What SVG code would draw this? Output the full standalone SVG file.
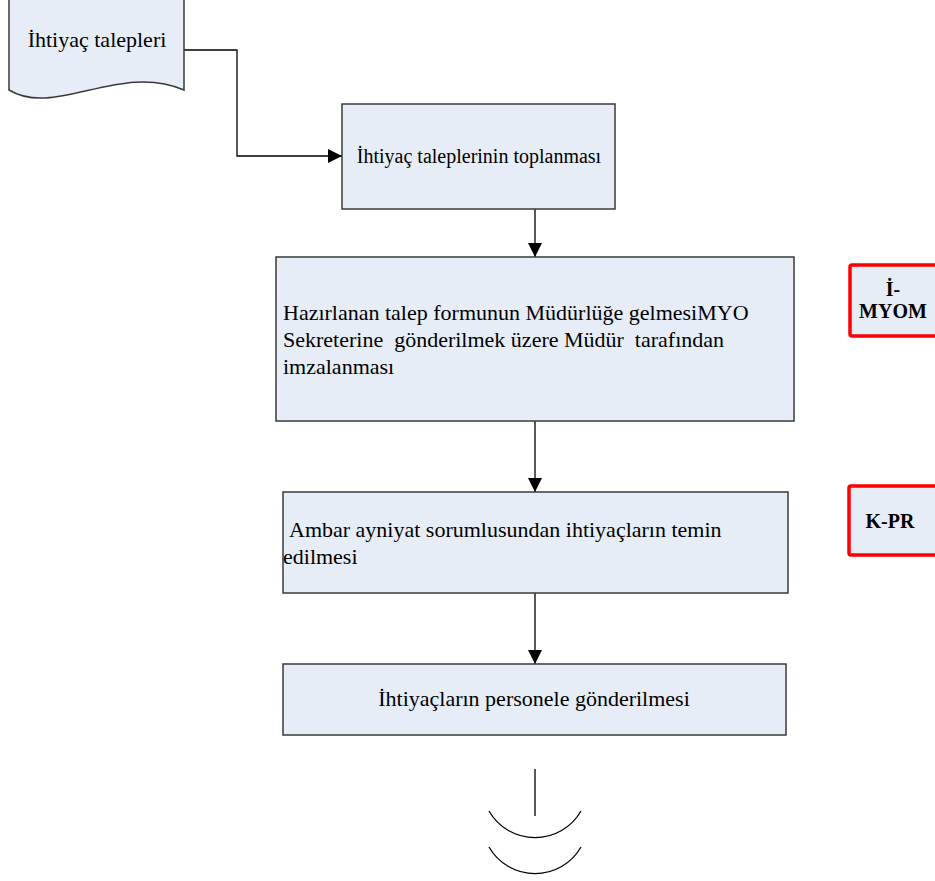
<svg xmlns="http://www.w3.org/2000/svg" width="935" height="881" viewBox="0 0 935 881">
<style>
.box{fill:#e7edf7;stroke:#3a3a3a;stroke-width:1.5}
.red{fill:#e7edf7;stroke:#ff0000;stroke-width:3.5}
.t{font-family:"Liberation Serif","Times New Roman",serif;font-size:22px;fill:#000;white-space:pre}
.s{font-size:20px}
.b{font-family:"Liberation Serif","Times New Roman",serif;font-size:20px;font-weight:bold;fill:#000}
.c{fill:none;stroke:#000;stroke-width:1.3}
</style>
<defs>
<marker id="ar2" markerWidth="14" markerHeight="14" refX="14" refY="7" orient="auto" markerUnits="userSpaceOnUse" viewBox="0 0 14 14">
<path d="M0,0 L14,7 L0,14 z" fill="#000"/>
</marker>
</defs>
<g id="connectors">
<path class="c" d="M184,50 H237 V156 H342" marker-end="url(#ar2)"/>
<path class="c" d="M535,209 V257" marker-end="url(#ar2)"/>
<path class="c" d="M535,421 V492" marker-end="url(#ar2)"/>
<path class="c" d="M535,593 V664" marker-end="url(#ar2)"/>
</g>
<g id="doc">
<path class="box" d="M9,-5 H184 V90 C120,62 55,118 9,90 Z"/>
<text class="t" x="97" y="47" text-anchor="middle">İhtiyaç talepleri</text>
</g>
<g id="n1">
<rect class="box" x="342" y="104" width="273" height="105"/>
<text class="t s" x="479" y="163" text-anchor="middle">İhtiyaç taleplerinin toplanması</text>
</g>
<g id="n2">
<rect class="box" x="276" y="257" width="518" height="164"/>
<text class="t" x="283" y="320" xml:space="preserve">Hazırlanan talep formunun Müdürlüğe gelmesiMYO</text>
<text class="t" x="283" y="347" xml:space="preserve">Sekreterine  gönderilmek üzere Müdür  tarafından</text>
<text class="t" x="283" y="374">imzalanması</text>
</g>
<g id="n3">
<rect class="box" x="283" y="492" width="505" height="101"/>
<text class="t" x="289" y="537">Ambar ayniyat sorumlusundan ihtiyaçların temin</text>
<text class="t" x="283" y="564">edilmesi</text>
</g>
<g id="n4">
<rect class="box" x="283" y="664" width="503" height="71"/>
<text class="t" x="534" y="706" text-anchor="middle">İhtiyaçların personele gönderilmesi</text>
</g>
<g id="r1">
<rect class="red" x="850" y="265" width="95" height="71" rx="2"/>
<text class="b" x="893" y="296" text-anchor="middle">İ-</text>
<text class="b" x="893" y="318" text-anchor="middle">MYOM</text>
</g>
<g id="r2">
<rect class="red" x="849" y="486" width="95" height="69" rx="2"/>
<text class="b" x="890" y="528" text-anchor="middle">K-PR</text>
</g>
<g id="end">
<path class="c" d="M535,769 V816"/>
<path class="c" d="M489,811 A53,53 0 0 0 581,811"/>
<path class="c" d="M489,847 A53,53 0 0 0 581,847"/>
</g>
</svg>
